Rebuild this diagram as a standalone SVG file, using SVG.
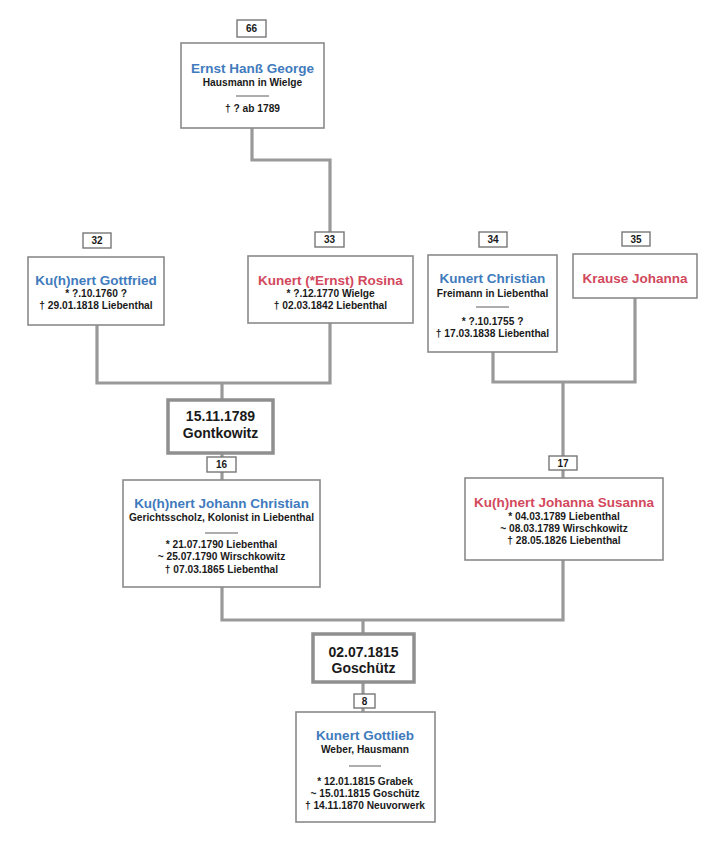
<svg xmlns="http://www.w3.org/2000/svg" width="723" height="847" viewBox="0 0 723 847">
<style>
.box{fill:#fff;stroke:#8a8a8a;stroke-width:1.6}
.mbox{fill:#fff;stroke:#8f8f8f;stroke-width:3.5}
.lbl{fill:#fff;stroke:#777;stroke-width:1.4}
.conn{fill:none;stroke:#999;stroke-width:3.2}
text{font-family:"Liberation Sans",Arial,sans-serif;font-weight:bold;text-anchor:middle;fill:#1a1a1a}
.n{font-size:13.5px}
.b{fill:#3f7bbd}
.r{fill:#d2485c}
.t{font-size:10.2px}
.l{font-size:10px}
.m{font-size:14px}
.sep{stroke:#333;stroke-width:0.8}
</style>
<rect width="723" height="847" fill="#fff"/>
<g id="connectors">
<polyline class="conn" points="252,128 252,160 330,160 330,232"/>
<polyline class="conn" points="97,325 97,383 330,383 330,323"/>
<polyline class="conn" points="222,383 222,400"/>
<polyline class="conn" points="222,453 222,457"/>
<polyline class="conn" points="222,472 222,480"/>
<polyline class="conn" points="493,352 493,382 635,382 635,298"/>
<polyline class="conn" points="563,382 563,456"/>
<polyline class="conn" points="563,470 563,478"/>
<polyline class="conn" points="222,587 222,620 563,620 563,560"/>
<polyline class="conn" points="363,620 363,634"/>
<polyline class="conn" points="363,682 363,694"/>
<polyline class="conn" points="363,708 363,712"/>
</g>
<g id="n66">
<rect class="lbl" x="237" y="20" width="29" height="17"/>
<text class="l" x="251.5" y="32">66</text>
<rect class="box" x="181" y="43" width="143" height="85"/>
<text class="n b" x="252.5" y="73">Ernst Hanß George</text>
<text class="t" x="252.5" y="86">Hausmann in Wielge</text>
<line class="sep" x1="236" y1="96" x2="269" y2="96"/>
<text class="t" x="252.5" y="112">† ? ab 1789</text>
</g>
<g id="n32">
<rect class="lbl" x="83" y="233" width="28" height="15"/>
<text class="l" x="97" y="244">32</text>
<rect class="box" x="28" y="257" width="136" height="68"/>
<text class="n b" x="96" y="285">Ku(h)nert Gottfried</text>
<text class="t" x="96" y="297">* ?.10.1760 ?</text>
<text class="t" x="96" y="309">† 29.01.1818 Liebenthal</text>
</g>
<g id="n33">
<rect class="lbl" x="315" y="232" width="29" height="15"/>
<text class="l" x="329.5" y="243">33</text>
<rect class="box" x="248" y="256" width="165" height="67"/>
<text class="n r" x="330.5" y="285">Kunert (*Ernst) Rosina</text>
<text class="t" x="330.5" y="297">* ?.12.1770 Wielge</text>
<text class="t" x="330.5" y="309">† 02.03.1842 Liebenthal</text>
</g>
<g id="n34">
<rect class="lbl" x="479" y="232" width="28" height="15"/>
<text class="l" x="493" y="243">34</text>
<rect class="box" x="428" y="255" width="129" height="97"/>
<text class="n b" x="492.5" y="283">Kunert Christian</text>
<text class="t" x="492.5" y="297">Freimann in Liebenthal</text>
<line class="sep" x1="476" y1="307" x2="509" y2="307"/>
<text class="t" x="492.5" y="325">* ?.10.1755 ?</text>
<text class="t" x="492.5" y="337">† 17.03.1838 Liebenthal</text>
</g>
<g id="n35">
<rect class="lbl" x="622" y="232" width="28" height="14"/>
<text class="l" x="636" y="243">35</text>
<rect class="box" x="573" y="254" width="124" height="44"/>
<text class="n r" x="635" y="283">Krause Johanna</text>
</g>
<g id="m1">
<rect class="mbox" x="168" y="400" width="105" height="53"/>
<text class="m" x="220.5" y="421">15.11.1789</text>
<text class="m" x="220.5" y="438">Gontkowitz</text>
</g>
<g id="n16">
<rect class="lbl" x="207" y="457" width="29" height="15"/>
<text class="l" x="221.5" y="468">16</text>
<rect class="box" x="123" y="480" width="197" height="107"/>
<text class="n b" x="221.5" y="508">Ku(h)nert Johann Christian</text>
<text class="t" x="221.5" y="521">Gerichtsscholz, Kolonist in Liebenthal</text>
<line class="sep" x1="205" y1="533" x2="238" y2="533"/>
<text class="t" x="221.5" y="548">* 21.07.1790 Liebenthal</text>
<text class="t" x="221.5" y="560">~ 25.07.1790 Wirschkowitz</text>
<text class="t" x="221.5" y="573">† 07.03.1865 Liebenthal</text>
</g>
<g id="n17">
<rect class="lbl" x="549" y="456" width="28" height="14"/>
<text class="l" x="563" y="467">17</text>
<rect class="box" x="465" y="478" width="198" height="82"/>
<text class="n r" x="564" y="507">Ku(h)nert Johanna Susanna</text>
<text class="t" x="564" y="520">* 04.03.1789 Liebenthal</text>
<text class="t" x="564" y="532">~ 08.03.1789 Wirschkowitz</text>
<text class="t" x="564" y="544">† 28.05.1826 Liebenthal</text>
</g>
<g id="m2">
<rect class="mbox" x="313" y="634" width="101" height="48"/>
<text class="m" x="363.5" y="657">02.07.1815</text>
<text class="m" x="363.5" y="673">Goschütz</text>
</g>
<g id="n8">
<rect class="lbl" x="354" y="694" width="21" height="14"/>
<text class="l" x="364.5" y="705">8</text>
<rect class="box" x="296" y="712" width="139" height="110"/>
<text class="n b" x="365" y="740">Kunert Gottlieb</text>
<text class="t" x="365" y="753">Weber, Hausmann</text>
<line class="sep" x1="349" y1="766" x2="381" y2="766"/>
<text class="t" x="365" y="785">* 12.01.1815 Grabek</text>
<text class="t" x="365" y="797">~ 15.01.1815 Goschütz</text>
<text class="t" x="365" y="809">† 14.11.1870 Neuvorwerk</text>
</g>
</svg>
